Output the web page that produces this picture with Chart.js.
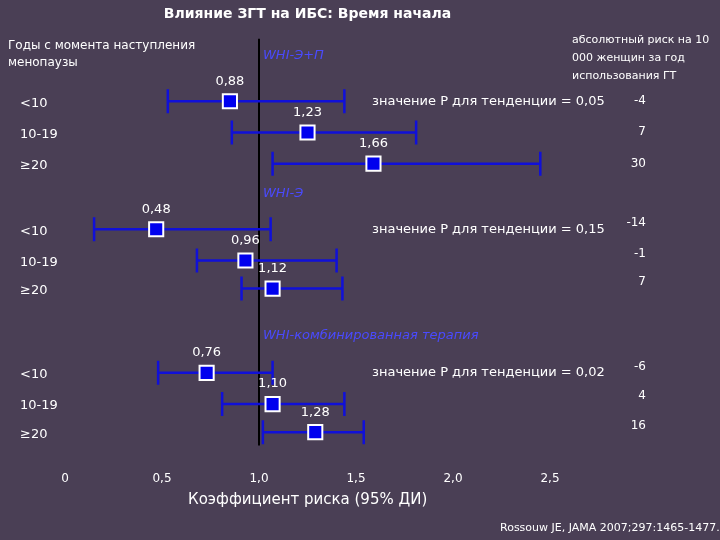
<!DOCTYPE html>
<html><head><meta charset="utf-8">
<script src="https://cdn.jsdelivr.net/npm/chart.js@4/dist/chart.umd.min.js"></script>
<style>body{margin:0;background:#4a3f55}#wrap{width:720px;height:540px}</style>
</head><body><div id="wrap"><canvas id="c"></canvas></div>
<script>
// data
var rowLabels = ["<10", "10-19", "≥20", "<10", "10-19", "≥20", "<10", "10-19", "≥20"];
var rowPos = [1, 2, 3, 5.1, 6.1, 7, 9.7, 10.7, 11.6];
var hr = [0.88, 1.23, 1.66, 0.48, 0.96, 1.12, 0.76, 1.10, 1.28];
var hrDraw = [0.85, 1.25, 1.59, 0.47, 0.93, 1.07, 0.73, 1.07, 1.29];
var ciLow = [0.53, 0.86, 1.07, 0.15, 0.68, 0.91, 0.48, 0.81, 1.02];
var ciHigh = [1.44, 1.81, 2.45, 1.06, 1.40, 1.43, 1.07, 1.44, 1.54];
var absRisk = ["-4", "7", "30", "-14", "-1", "7", "-6", "4", "16"];
var absRiskPos = [1, 1.97, 3, 4.9, 5.9, 6.8, 9.5, 10.45, 11.4];
var groups = ["WHI-Э+П", "WHI-Э", "WHI-комбинированная терапия"];
var groupPos = [-0.45, 3.95, 8.5];
var pValues = ["значение P для тенденции = 0,05", "значение P для тенденции = 0,15", "значение P для тенденции = 0,02"];
var pPos = [1, 5.1, 9.7];
var xTicks = ["0", "0,5", "1,0", "1,5", "2,0", "2,5"];

var pts = hrDraw.map(function(v, i){ return {x: v, y: rowPos[i]}; });

var overlay = {
  id: 'overlay',
  beforeDatasetsDraw: function(chart){
    var c = chart.ctx, x = chart.scales.x, y = chart.scales.y;
    c.save();
    // reference line at 1
    c.strokeStyle = '#000'; c.lineWidth = 2;
    c.beginPath(); c.moveTo(x.getPixelForValue(1), y.top); c.lineTo(x.getPixelForValue(1), y.bottom); c.stroke();
    // whiskers
    c.strokeStyle = '#1010d8'; c.lineWidth = 2.5;
    for (var i = 0; i < rowPos.length; i++) {
      var yy = y.getPixelForValue(rowPos[i]);
      var a = x.getPixelForValue(ciLow[i]), b = x.getPixelForValue(ciHigh[i]);
      c.beginPath(); c.moveTo(a, yy); c.lineTo(b, yy);
      c.moveTo(a, yy - 12); c.lineTo(a, yy + 12);
      c.moveTo(b, yy - 12); c.lineTo(b, yy + 12); c.stroke();
    }
    c.restore();
  },
  afterDatasetsDraw: function(chart){
    var c = chart.ctx, x = chart.scales.x, y = chart.scales.y;
    c.save();
    c.fillStyle = '#fff';
    c.font = '13px "DejaVu Sans"';
    c.textBaseline = 'middle';
    for (var i = 0; i < rowPos.length; i++) {
      var yy = y.getPixelForValue(rowPos[i]);
      c.textAlign = 'left';
      c.font = '13px "DejaVu Sans"';
      c.fillText(rowLabels[i], 20, yy + 2);
      c.textAlign = 'center';
      c.fillText(hr[i].toFixed(2).replace('.', ','), x.getPixelForValue(hrDraw[i]), yy - 20);
      c.textAlign = 'right';
      c.font = '12px "DejaVu Sans"';
      c.fillText(absRisk[i], 646, y.getPixelForValue(absRiskPos[i]));
    }
    c.textAlign = 'left';
    for (var g = 0; g < groups.length; g++) {
      c.font = 'italic 13px "DejaVu Sans"';
      c.fillStyle = '#4a4aff';
      c.fillText(groups[g], 263, y.getPixelForValue(groupPos[g]));
      c.font = '13px "DejaVu Sans"';
      c.fillStyle = '#fff';
      c.fillText(pValues[g], 372, y.getPixelForValue(pPos[g]));
    }
    c.font = '12px "DejaVu Sans"';
    c.fillText('Годы с момента наступления', 8, 46);
    c.fillText('менопаузы', 8, 63);
    c.font = '11px "DejaVu Sans"';
    c.fillText('абсолютный риск на 10', 572, 40);
    c.fillText('000 женщин за год', 572, 58);
    c.fillText('использования ГТ', 572, 76);
    c.font = '15px "DejaVu Sans"';
    c.fillText('Коэффициент риска (95% ДИ)', 188, 500);
    c.font = '11px "Liberation Sans Narrow", "DejaVu Sans"';
    c.fillText('Rossouw JE, JAMA 2007;297:1465-1477.', 500, 528);
    c.restore();
  }
};

new Chart(document.getElementById('c'), {
  type: 'scatter',
  data: { datasets: [{
    data: pts,
    pointStyle: 'rect', pointRadius: 10, pointHoverRadius: 10,
    backgroundColor: '#0000ee', borderColor: '#fff', borderWidth: 2
  }]},
  options: {
    responsive: true, maintainAspectRatio: false, animation: false,
    layout: { padding: { left: 65, right: 170, top: 0, bottom: 36 } },
    plugins: {
      legend: { display: false }, tooltip: { enabled: false },
      title: { display: true, text: 'Влияние ЗГТ на ИБС: Время начала', color: '#fff',
        font: { family: 'DejaVu Sans', size: 14, weight: 'bold' }, padding: { top: 6, bottom: 16 } }
    },
    scales: {
      x: { type: 'linear', min: 0, max: 2.5, grid: { display: false }, border: { display: false },
        ticks: { stepSize: 0.5, color: '#fff', font: { family: 'DejaVu Sans', size: 12 }, padding: 18,
          callback: function(v, i){ return xTicks[i]; } } },
      y: { type: 'linear', reverse: true, min: -1, max: 12.03, display: false }
    }
  },
  plugins: [overlay]
});
</script></body></html>
